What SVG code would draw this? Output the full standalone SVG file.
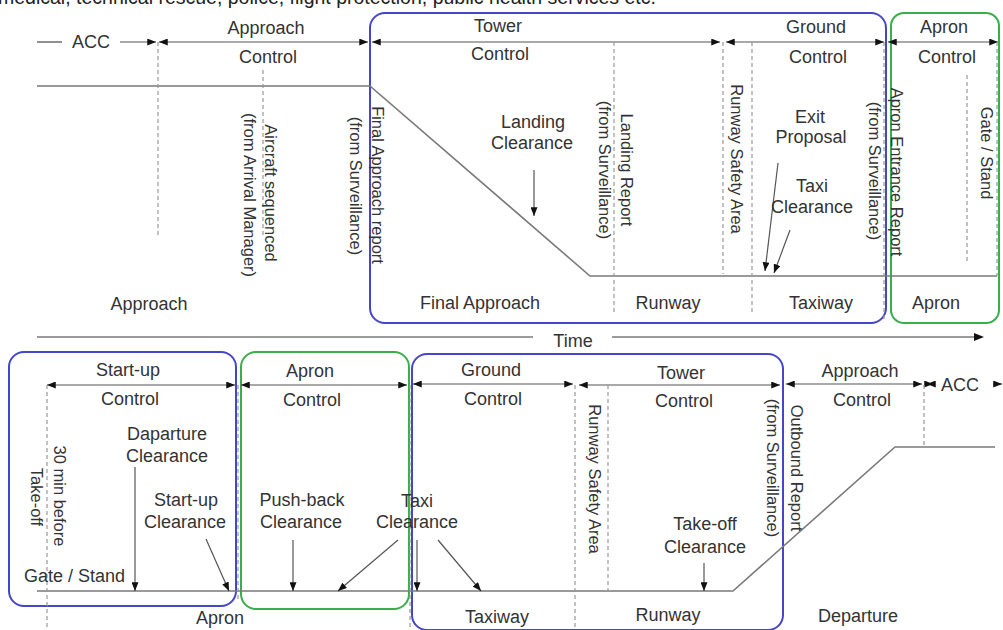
<svg xmlns="http://www.w3.org/2000/svg" width="1003" height="630" viewBox="0 0 1003 630">
<defs>
<marker id="ah" viewBox="0 0 10 8" refX="10" refY="4" markerWidth="9" markerHeight="7" markerUnits="userSpaceOnUse" orient="auto-start-reverse">
<path d="M0,0 L10,4 L0,8 Z" fill="#111"/>
</marker>
<style>
text{font-family:"Liberation Sans",Arial,sans-serif;fill:#333;font-size:18px}
.c{text-anchor:middle}
.r{font-size:16.5px;text-anchor:middle}
.ln{stroke:#7a7a7a;stroke-width:1.6;fill:none}
.ar{stroke:#555;stroke-width:1.3;fill:none}
.dr{stroke:#555;stroke-width:1.2;fill:none;marker-start:url(#ah);marker-end:url(#ah)}
.sr{stroke:#555;stroke-width:1.2;fill:none;marker-end:url(#ah)}
.ds{stroke:#999;stroke-width:1.2;stroke-dasharray:4 3;fill:none}
.bb{fill:none;stroke:#4646c8;stroke-width:2}
.gb{fill:none;stroke:#3aae4a;stroke-width:2}
</style>
</defs>
<rect width="1003" height="630" fill="#fff"/>
<text x="-2" y="3.5" style="font-size:19.5px;fill:#222">medical, technical rescue, police, flight protection, public health services etc.</text>

<g id="zones">
<rect id="tower-ground-top" class="bb" x="370" y="13" width="516" height="310" rx="15"/>
<rect id="apron-top" class="gb" x="891" y="13" width="108" height="310" rx="13"/>
<rect id="startup-bottom" class="bb" x="9" y="352" width="227" height="254" rx="15"/>
<rect id="apron-bottom" class="gb" x="241" y="352" width="168" height="257" rx="15"/>
<rect id="ground-tower-bottom" class="bb" x="412" y="354" width="371" height="276" rx="15"/>
</g>

<g id="connectors">
<!-- top control arrows -->
<line class="ar" x1="37" y1="42" x2="62" y2="42"/>
<line class="sr" x1="120" y1="42" x2="156" y2="42"/>
<line class="dr" x1="159" y1="42" x2="368" y2="42"/>
<line class="dr" x1="372" y1="42" x2="720" y2="42"/>
<line class="dr" x1="726" y1="42" x2="884" y2="42"/>
<line class="dr" x1="888" y1="42" x2="998" y2="42"/>
<!-- top profile -->
<polyline class="ln" points="37,86 370,86 590,276 997,276"/>
<!-- top dashed -->
<line class="ds" x1="158" y1="42" x2="158" y2="237"/>
<line class="ds" x1="263" y1="70" x2="263" y2="237"/>
<line class="ds" x1="614" y1="42" x2="614" y2="313"/>
<line class="ds" x1="723" y1="42" x2="723" y2="274"/>
<line class="ds" x1="752" y1="42" x2="752" y2="312"/>
<line class="ds" x1="884" y1="42" x2="884" y2="320"/>
<line class="ds" x1="967" y1="75" x2="967" y2="263"/>
<line class="ds" x1="997" y1="42" x2="997" y2="276"/>
<!-- top clearance arrows -->
<line class="sr" x1="534" y1="170" x2="534" y2="216"/>
<line class="sr" x1="778" y1="163" x2="765" y2="271"/>
<line class="sr" x1="790" y1="230" x2="774" y2="273"/>
<!-- time -->
<line class="ln" x1="37" y1="337" x2="533" y2="337"/>
<line class="ln" x1="612" y1="337" x2="976" y2="337"/>
<path d="M974,333 L984,337 L974,341 Z" fill="#111"/>
<!-- bottom control arrows -->
<line class="dr" x1="47" y1="385" x2="235" y2="385"/>
<line class="dr" x1="241" y1="385" x2="407" y2="385"/>
<line class="dr" x1="413" y1="384" x2="573" y2="384"/>
<line class="dr" x1="579" y1="385" x2="780" y2="385"/>
<line class="dr" x1="786" y1="384" x2="922" y2="384"/>
<line class="dr" x1="927" y1="384" x2="933" y2="384"/>
<line class="sr" x1="993" y1="384" x2="1002" y2="384"/>
<!-- bottom profile -->
<polyline class="ln" points="37,591 733,591 895,447 995,447"/>
<!-- bottom dashed -->
<line class="ds" x1="47" y1="385" x2="47" y2="630"/>
<line class="ds" x1="238" y1="385" x2="238" y2="600"/>
<line class="ds" x1="410" y1="385" x2="410" y2="630"/>
<line class="ds" x1="575" y1="385" x2="575" y2="630"/>
<line class="ds" x1="608" y1="385" x2="608" y2="591"/>
<line class="ds" x1="924" y1="385" x2="924" y2="447"/>
<!-- bottom clearance arrows -->
<line class="sr" x1="135" y1="467" x2="135" y2="591"/>
<line class="sr" x1="206" y1="539" x2="229" y2="591"/>
<line class="sr" x1="293" y1="540" x2="293" y2="591"/>
<line class="sr" x1="398" y1="540" x2="338" y2="591"/>
<line class="sr" x1="417" y1="540" x2="417" y2="591"/>
<line class="sr" x1="438" y1="540" x2="481" y2="591"/>
<line class="sr" x1="704" y1="563" x2="704" y2="591"/>
</g>

<g id="top-labels">
<text class="c" x="91" y="48">ACC</text>
<text class="c" x="266" y="34">Approach</text>
<text class="c" x="268" y="63">Control</text>
<text class="c" x="498" y="32">Tower</text>
<text class="c" x="500" y="60">Control</text>
<text class="c" x="816" y="33">Ground</text>
<text class="c" x="818" y="63">Control</text>
<text class="c" x="944" y="33">Apron</text>
<text class="c" x="947" y="63">Control</text>
<text class="c" x="533" y="128">Landing</text>
<text class="c" x="532" y="149">Clearance</text>
<text class="c" x="810" y="123">Exit</text>
<text class="c" x="811" y="143">Proposal</text>
<text class="c" x="812" y="192">Taxi</text>
<text class="c" x="812" y="213">Clearance</text>
<text class="c" x="149" y="310">Approach</text>
<text class="c" x="480" y="309">Final Approach</text>
<text class="c" x="668" y="309">Runway</text>
<text class="c" x="821" y="309">Taxiway</text>
<text class="c" x="936" y="309">Apron</text>
<text class="c" x="573" y="347">Time</text>
</g>

<g id="top-events">
<text class="r" transform="translate(265,193) rotate(90)">Aircraft sequenced</text>
<text class="r" transform="translate(244,195) rotate(90)">(from Arrival Manager)</text>
<text class="r" transform="translate(372,185) rotate(90)">Final Approach report</text>
<text class="r" transform="translate(350,186) rotate(90)">(from Surveillance)</text>
<text class="r" transform="translate(621,170) rotate(90)">Landing Report</text>
<text class="r" transform="translate(599,170) rotate(90)">(from Surveillance)</text>
<text class="r" transform="translate(731,159) rotate(90)">Runway Safety Area</text>
<text class="r" transform="translate(891,172) rotate(90)">Apron Entrance Report</text>
<text class="r" transform="translate(869,171) rotate(90)">(from Surveillance)</text>
<text class="r" transform="translate(981,153) rotate(90)">Gate / Stand</text>
</g>

<g id="bottom-labels">
<text class="c" x="128" y="376">Start-up</text>
<text class="c" x="130" y="405">Control</text>
<text class="c" x="310" y="377">Apron</text>
<text class="c" x="312" y="406">Control</text>
<text class="c" x="491" y="376">Ground</text>
<text class="c" x="493" y="405">Control</text>
<text class="c" x="681" y="379">Tower</text>
<text class="c" x="684" y="407">Control</text>
<text class="c" x="860" y="377">Approach</text>
<text class="c" x="862" y="406">Control</text>
<text class="c" x="960" y="391">ACC</text>
<text class="c" x="167" y="440">Daparture</text>
<text class="c" x="167" y="462">Clearance</text>
<text class="c" x="186" y="506">Start-up</text>
<text class="c" x="185" y="528">Clearance</text>
<text x="24" y="582">Gate / Stand</text>
<text class="c" x="302" y="506">Push-back</text>
<text class="c" x="301" y="528">Clearance</text>
<text class="c" x="417" y="507">Taxi</text>
<text class="c" x="417" y="528">Clearance</text>
<text class="c" x="705" y="530">Take-off</text>
<text class="c" x="705" y="553">Clearance</text>
<text class="c" x="220" y="624">Apron</text>
<text class="c" x="497" y="623">Taxiway</text>
<text class="c" x="668" y="621">Runway</text>
<text class="c" x="858" y="622">Departure</text>
</g>

<g id="bottom-events">
<text class="r" transform="translate(54,496) rotate(90)">30 min before</text>
<text class="r" transform="translate(31,497) rotate(90)">Take-off</text>
<text class="r" transform="translate(589,479) rotate(90)">Runway Safety Area</text>
<text class="r" transform="translate(767,468) rotate(90)">(from Surveillance)</text>
<text class="r" transform="translate(791,468) rotate(90)">Outbound Report</text>
</g>
</svg>
